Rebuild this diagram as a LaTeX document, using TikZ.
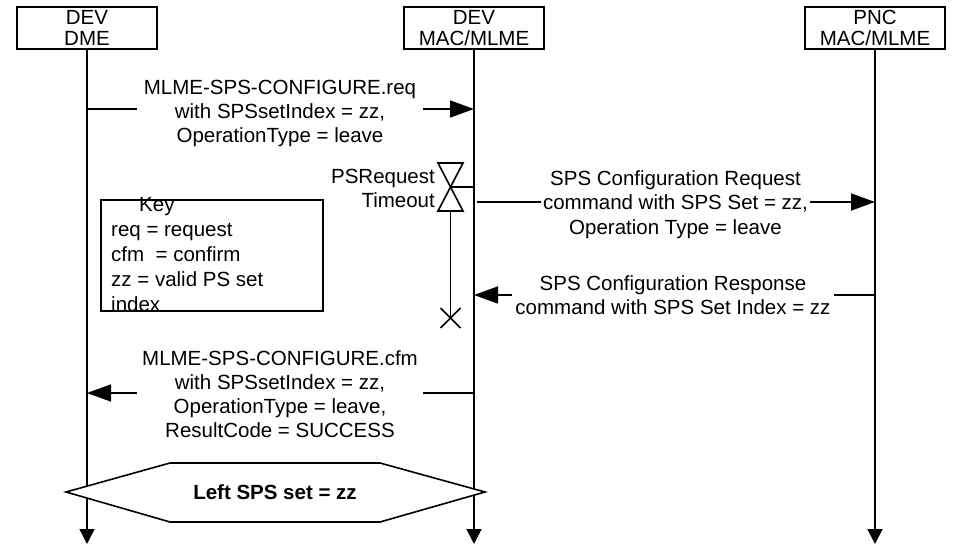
\documentclass[tikz,border=0pt]{standalone}
\usepackage{fontspec}
\setmainfont{Liberation Sans}
\usetikzlibrary{arrows.meta}
\begin{document}
\begin{tikzpicture}[x=1pt,y=-1pt,
  every node/.style={font=\fontsize{20.5}{24}\selectfont, inner sep=0pt},
  entity/.style={draw, line width=1.6pt, minimum width=140pt, minimum height=42pt, align=center, font=\fontsize{20.5}{21}\selectfont},
  life/.style={line width=1.6pt, -{Triangle[length=15pt,width=15pt]}},
  msg/.style={line width=1.6pt, -{Triangle[length=24pt,width=17pt]}},
  lbl/.style={fill=white, align=center},
  thin/.style={line width=1.6pt}]
\useasboundingbox (0,0) rectangle (953,548);
% entities
\node[entity] (dme) at (87,28) {DEV\\DME};
\node[entity] (mac) at (474,28) {DEV\\MAC/MLME};
\node[entity] (pnc) at (875,28) {PNC\\MAC/MLME};
\coordinate (dmeEnd) at (87,544);
\coordinate (macEnd) at (474,544);
\coordinate (pncEnd) at (875,544);
\draw[life] (dme) -- (dmeEnd);
\draw[life] (mac) -- (macEnd);
\draw[life] (pnc) -- (pncEnd);
% message 1
\coordinate (m1a) at (87,109);
\coordinate (m1b) at (474,109);
\draw[msg] (m1a) -- (m1b);
\node[lbl, inner xsep=7pt] (l1) at (280,113.5) {MLME-SPS-CONFIGURE.req\\with SPSsetIndex = zz,\\OperationType = leave};
% timer
\draw[thin] (438,163) -- (463,163) -- (438,211) -- (463,211) -- cycle;
\coordinate (hg) at (450.5,187);
\coordinate (hgb) at (450.5,211);
\coordinate (xend) at (450.5,318);
\coordinate (hgm) at (474,187);
\draw[thin] (hg) -- (hgm);
\draw[thin] (hgb) -- (xend);
\draw[thin] (440.5,308) -- (460.5,328) (440.5,328) -- (460.5,308);
\node[anchor=east, align=right] (tlbl) at (435,188) {PSRequest\\Timeout};
% message 2
\coordinate (m2a) at (477,202);
\coordinate (m2b) at (875,202);
\draw[msg] (m2a) -- (m2b);
\node[lbl, inner xsep=2pt, font=\fontsize{20.5}{24.5}\selectfont] (l2) at (675.5,204.5) {SPS Configuration Request\\command with SPS Set = zz,\\Operation Type = leave};
% message 3
\coordinate (m3a) at (875,295);
\coordinate (m3b) at (474,295);
\draw[msg] (m3a) -- (m3b);
\node[lbl, inner xsep=3pt] (l3) at (673,295) {SPS Configuration Response\\command with SPS Set Index = zz};
% key
\node[draw, thin, minimum width=222pt, minimum height=111pt, anchor=north west] (key) at (100,199) {};
\node[anchor=north west, align=left, font=\fontsize{20.5}{24.8}\selectfont] (keytext) at (111,197.5) {\hspace{28pt}Key\\req = request\\cfm~ = confirm\\zz = valid PS set\\index};
% message 4
\coordinate (m4a) at (474,393);
\coordinate (m4b) at (87,393);
\draw[msg] (m4a) -- (m4b);
\node[lbl, inner xsep=5pt] (l4) at (280,394) {MLME-SPS-CONFIGURE.cfm\\with SPSsetIndex = zz,\\OperationType = leave,\\ResultCode = SUCCESS};
% hexagon
\draw[thin, fill=white] (66,492) -- (170,463) -- (380,463) -- (485,492) -- (380,522) -- (170,522) -- cycle;
\node[font=\fontsize{20.5}{23.5}\selectfont\bfseries] (state) at (275,492) {Left SPS set = zz};
\end{tikzpicture}
\end{document}
